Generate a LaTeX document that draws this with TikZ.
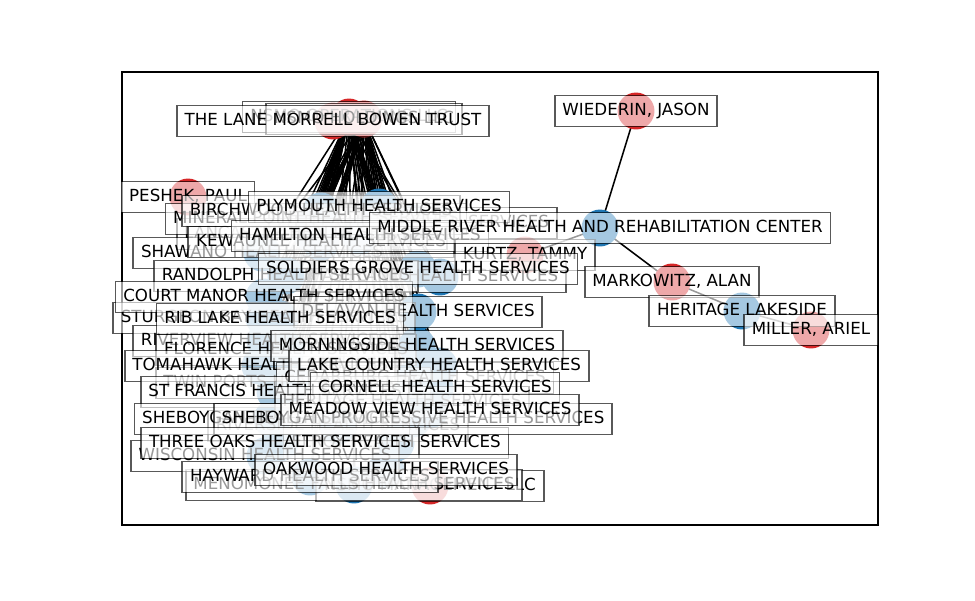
\documentclass[tikz,border=0pt]{standalone}
\usepackage{fontspec}
\newfontfamily\dejavu{DejaVu Sans}
\definecolor{ownerred}{RGB}{214,39,40}
\definecolor{homeblue}{RGB}{31,119,180}

\begin{document}
\begin{tikzpicture}[
    x = 0.72pt, y = -0.72pt,
    line width = 1.1pt,
    dot/.style = {circle, inner sep = 0pt,
      minimum size = 26.6pt},
    owner/.style = {dot, fill = ownerred},
    home/.style = {dot, fill = homeblue},
    tag/.style = {draw = black, draw opacity = 0.65,
      line width = 1.3pt,
      fill = white, fill opacity = 0.6, text opacity = 1,
      font = \dejavu\fontsize{12}{14}\selectfont,
      inner xsep = 5.6pt, inner ysep = 5.3pt,
      text height = 9pt, text depth = 2.6pt},
    ]

    \useasboundingbox (0, 0) rectangle (975, 600);
    \draw (122, 72) rectangle (878, 525);

    % positions (label and dot share the centre)
    \coordinate (nsmo1) at (349, 117);
    \coordinate (nsmo2) at (364, 119);
    \coordinate (lane) at (333, 121);
    \coordinate (wiederin) at (636, 111);
    \coordinate (middle) at (600, 228);
    \coordinate (markowitz) at (672, 282);
    \coordinate (heritage) at (742, 311);
    \coordinate (miller) at (811, 330);
    \coordinate (kurtz) at (525, 255);
    \coordinate (peshek) at (188, 197);
    \coordinate (llc) at (430, 486);

    \coordinate (plymouth) at (379, 207);
    \coordinate (birch) at (321, 211);
    \coordinate (mineral) at (316, 219);
    \coordinate (chute) at (413, 223);
    \coordinate (lancaster) at (312, 234);
    \coordinate (kewaunee) at (321, 242);
    \coordinate (shawano) at (262, 253);
    \coordinate (hamilton) at (360, 236);
    \coordinate (randolph) at (286, 276);
    \coordinate (ashland) at (440, 277);
    \coordinate (soldiers) at (418, 269);
    \coordinate (court) at (264, 297);
    \coordinate (delavan) at (418, 312);
    \coordinate (sturgeon) at (264, 318);
    \coordinate (riblake) at (280, 319);
    \coordinate (riverview) at (265, 341);
    \coordinate (florence) at (286, 350);
    \coordinate (morningside) at (417, 346);
    \coordinate (tomahawk) at (260, 366);
    \coordinate (lakecountry) at (439, 366);
    \coordinate (cedarburg) at (415, 378);
    \coordinate (twinports) at (293, 383);
    \coordinate (cornell) at (435, 388);
    \coordinate (stfrancis) at (275, 392);
    \coordinate (heritagehs) at (402, 402);
    \coordinate (meadow) at (430, 410);
    \coordinate (sheboygan) at (272, 419);
    \coordinate (progressive) at (413, 419);
    \coordinate (riverside) at (338, 426);
    \coordinate (threeoaks) at (280, 443);
    \coordinate (elroy) at (396, 443);
    \coordinate (wisco) at (265, 456);
    \coordinate (hayward) at (310, 477);
    \coordinate (menomonee) at (354, 485);
    \coordinate (oakwood) at (386, 470);

    % edges
    \foreach \f in {plymouth, birch, mineral, chute, lancaster, kewaunee,
      shawano, hamilton, randolph, ashland, soldiers, court, delavan,
      sturgeon, riblake, riverview, florence, morningside, tomahawk,
      lakecountry, cedarburg, twinports, cornell, stfrancis, heritagehs,
      meadow, sheboygan, progressive, riverside, threeoaks, elroy, wisco,
      hayward, menomonee, oakwood} {
      \draw (nsmo1) -- (\f);
      \draw (nsmo2) -- (\f);
    }
    \draw (wiederin) -- (middle);
    \draw (middle) -- (markowitz);
    \draw (middle) -- (kurtz);
    \draw (markowitz) -- (heritage);
    \draw (heritage) -- (miller);

    % dots
    \foreach \n in {nsmo1, nsmo2, lane, wiederin, markowitz, miller, kurtz,
      peshek, llc}
      \node at (\n) [owner, name = \n_dot] {};
    \foreach \n in {middle, heritage, plymouth, birch, mineral, chute,
      lancaster, kewaunee, shawano, hamilton, randolph, ashland, soldiers,
      court, delavan, sturgeon, riblake, riverview, florence, morningside,
      tomahawk, lakecountry, cedarburg, twinports, cornell, stfrancis,
      heritagehs, meadow, sheboygan, progressive, riverside, threeoaks,
      elroy, wisco, hayward, menomonee, oakwood}
      \node at (\n) [home, name = \n_dot] {};

    % labels, bottom layer first
    \node at (nsmo1) [tag, name = nsmo1_tag] {NSMO OPERATIONS LLC};
    \node at (nsmo2) [tag, name = nsmo2_tag] {NSMO HOLDINGS LLC};
    \node at (chute) [tag, name = chute_tag] {LITTLE CHUTE HEALTH SERVICES};
    \node at (lancaster) [tag, name = lancaster_tag] {LANCASTER HEALTH SERVICES};
    \node at (ashland) [tag, name = ashland_tag] {ASHLAND HEALTH SERVICES};
    \node at (twinports) [tag, name = twinports_tag] {TWIN PORTS HEALTH SERVICES};
    \node at (riverside) [tag, name = riverside_tag] {RIVERSIDE HEALTH SERVICES};
    \node at (llc) [tag, name = llc_tag] {NSMO MANAGEMENT LLC};
    \node at (menomonee) [tag, name = menomonee_tag] {MENOMONEE FALLS HEALTH SERVICES};
    \node at (elroy) [tag, name = elroy_tag] {ELROY HEALTH SERVICES};

    \node at (peshek) [tag, name = peshek_tag] {PESHEK, PAUL};
    \node at (mineral) [tag, name = mineral_tag] {MINERAL POINT HEALTH SERVICES};
    \node at (birch) [tag, name = birch_tag] {BIRCHWOOD HEALTH SERVICES};
    \node at (shawano) [tag, name = shawano_tag] {SHAWANO HEALTH SERVICES};
    \node at (kewaunee) [tag, name = kewaunee_tag] {KEWAUNEE HEALTH SERVICES};
    \node at (randolph) [tag, name = randolph_tag] {RANDOLPH HEALTH SERVICES};
    \node at (sturgeon) [tag, name = sturgeon_tag] {STURGEON BAY HEALTH SERVICES};
    \node at (court) [tag, name = court_tag] {COURT MANOR HEALTH SERVICES};
    \node at (delavan) [tag, name = delavan_tag] {DELAVAN HEALTH SERVICES};
    \node at (riverview) [tag, name = riverview_tag] {RIVERVIEW HEALTH SERVICES};
    \node at (florence) [tag, name = florence_tag] {FLORENCE HEALTH SERVICES};
    \node at (tomahawk) [tag, name = tomahawk_tag] {TOMAHAWK HEALTH SERVICES};
    \node at (cedarburg) [tag, name = cedarburg_tag] {CEDARBURG HEALTH SERVICES};
    \node at (stfrancis) [tag, name = stfrancis_tag] {ST FRANCIS HEALTH SERVICES};
    \node at (heritagehs) [tag, name = heritagehs_tag] {HERITAGE HEALTH SERVICES};
    \node at (sheboygan) [tag, name = sheboygan_tag] {SHEBOYGAN HEALTH SERVICES};
    \node at (progressive) [tag, name = progressive_tag] {SHEBOYGAN PROGRESSIVE HEALTH SERVICES};
    \node at (wisco) [tag, name = wisco_tag] {WISCONSIN HEALTH SERVICES};
    \node at (hayward) [tag, name = hayward_tag] {HAYWARD HEALTH SERVICES};

    \node at (lane) [tag, name = lane_tag] {THE LANE MORRELL BOWEN TRUST};
    \node at (plymouth) [tag, name = plymouth_tag] {PLYMOUTH HEALTH SERVICES};
    \node at (hamilton) [tag, name = hamilton_tag] {HAMILTON HEALTH SERVICES};
    \node at (kurtz) [tag, name = kurtz_tag] {KURTZ, TAMMY};
    \node at (soldiers) [tag, name = soldiers_tag] {SOLDIERS GROVE HEALTH SERVICES};
    \node at (middle) [tag, name = middle_tag] {MIDDLE RIVER HEALTH AND REHABILITATION CENTER};
    \node at (riblake) [tag, name = riblake_tag] {RIB LAKE HEALTH SERVICES};
    \node at (morningside) [tag, name = morningside_tag] {MORNINGSIDE HEALTH SERVICES};
    \node at (lakecountry) [tag, name = lakecountry_tag] {LAKE COUNTRY HEALTH SERVICES};
    \node at (cornell) [tag, name = cornell_tag] {CORNELL HEALTH SERVICES};
    \node at (meadow) [tag, name = meadow_tag] {MEADOW VIEW HEALTH SERVICES};
    \node at (threeoaks) [tag, name = threeoaks_tag] {THREE OAKS HEALTH SERVICES};
    \node at (oakwood) [tag, name = oakwood_tag] {OAKWOOD HEALTH SERVICES};
    \node at (wiederin) [tag, name = wiederin_tag] {WIEDERIN, JASON};
    \node at (markowitz) [tag, name = markowitz_tag] {MARKOWITZ, ALAN};
    \node at (heritage) [tag, name = heritage_tag] {HERITAGE LAKESIDE};
    \node at (miller) [tag, name = miller_tag] {MILLER, ARIEL};
  \end{tikzpicture}
\end{document}
